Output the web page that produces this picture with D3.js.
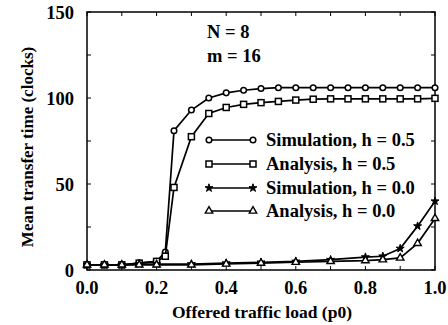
<!DOCTYPE html>
<html>
<head>
<meta charset="utf-8">
<script src="https://cdn.jsdelivr.net/npm/d3@7"></script>
<style>
  body { margin: 0; background: #fff; }
  text { font-family: "Liberation Serif", "Times New Roman", serif; fill: #000; font-weight: bold; }
</style>
</head>
<body>
<svg id="chart" width="448" height="325"></svg>
<script>
// data
const xSim05 = [0, 0.05, 0.1, 0.15, 0.2, 0.225, 0.25, 0.3, 0.35, 0.4, 0.45, 0.5, 0.55, 0.6, 0.65, 0.7, 0.75, 0.8, 0.85, 0.9, 0.95, 1.0];
const ySim05 = [3, 3, 3, 4, 5, 10.5, 81, 93, 100, 103, 104.5, 105.5, 106, 106, 106, 106, 106, 106, 106, 106, 106, 106];
const yAna05 = [3, 3, 3, 4, 5, 8, 48, 77.5, 91, 94.5, 96.3, 97.3, 98, 98.8, 99.3, 99.5, 99.5, 99.5, 99.5, 99.5, 99.5, 99.8];
const xH00 = [0, 0.05, 0.1, 0.15, 0.2, 0.3, 0.4, 0.5, 0.6, 0.7, 0.8, 0.85, 0.9, 0.95, 1.0];
const ySim00 = [3, 3, 3, 3.5, 3.5, 3.5, 4, 4.5, 5, 6, 7.5, 8, 12.5, 25.5, 40];
const yAna00 = [3, 3, 3, 3, 3, 3, 3.5, 4, 4.5, 5, 5.5, 6, 7, 15.5, 30];
const xTicks = [0, 0.2, 0.4, 0.6, 0.8, 1.0];
const yTicks = [0, 50, 100, 150];
const legendLabels = ["Simulation, h = 0.5", "Analysis, h = 0.5", "Simulation, h = 0.0", "Analysis, h = 0.0"];

const svg = d3.select('#chart');
const plotL = 87, plotR = 435, plotT = 12, plotB = 270;

const x = d3.scaleLinear().domain([0, 1]).range([plotL, plotR]);
const y = d3.scaleLinear().domain([0, 150]).range([plotB, plotT]);

// frame
svg.append('rect')
  .attr('x', plotL).attr('y', plotT)
  .attr('width', plotR - plotL).attr('height', plotB - plotT)
  .attr('fill', 'none').attr('stroke', '#000').attr('stroke-width', 1.5);

// inward ticks on all four sides
const g = svg.append('g').attr('stroke', '#000').attr('stroke-width', 1);
d3.range(0, 1.0001, 0.1).forEach(v => {
  g.append('line').attr('x1', x(v)).attr('x2', x(v)).attr('y1', plotB).attr('y2', plotB - 4);
  g.append('line').attr('x1', x(v)).attr('x2', x(v)).attr('y1', plotT).attr('y2', plotT + 4);
});
d3.range(0, 151, 25).forEach(v => {
  g.append('line').attr('x1', plotL).attr('x2', plotL + 4).attr('y1', y(v)).attr('y2', y(v));
  g.append('line').attr('x1', plotR).attr('x2', plotR - 4).attr('y1', y(v)).attr('y2', y(v));
});

// tick labels
svg.append('g').selectAll('text').data(xTicks).join('text')
  .attr('x', d => x(d)).attr('y', 294)
  .attr('text-anchor', 'middle')
  .attr('font-size', 18.5)
  .text(d => d.toFixed(1));

svg.append('g').selectAll('text').data(yTicks).join('text')
  .attr('x', 74).attr('y', d => y(d) + 7)
  .attr('text-anchor', 'end')
  .attr('font-size', 18.5)
  .text(d => d);

// axis titles
svg.append('text')
  .attr('x', 262).attr('y', 318)
  .attr('text-anchor', 'middle')
  .attr('font-size', 17.5)
  .text('Offered traffic load (p0)');

svg.append('text')
  .attr('transform', 'translate(33,147) rotate(-90)')
  .attr('text-anchor', 'middle')
  .attr('font-size', 17)
  .text('Mean transfer time (clocks)');

// annotation
svg.append('text').attr('x', 207).attr('y', 38).attr('font-size', 18.5).text('N = 8');
svg.append('text').attr('x', 207).attr('y', 62).attr('font-size', 18.5).text('m = 16');

// markers
function drawMarker(sel, type) {
  if (type === 'circle') {
    sel.append('circle').attr('r', 2.8).attr('fill', '#fff').attr('stroke', '#000').attr('stroke-width', 1.5);
  } else if (type === 'square') {
    sel.append('rect').attr('x', -3).attr('y', -3).attr('width', 6).attr('height', 6)
      .attr('fill', '#fff').attr('stroke', '#000').attr('stroke-width', 1.5);
  } else if (type === 'star') {
    sel.append('path').attr('d', d3.symbol(d3.symbolStar, 20)()).attr('fill', '#000').attr('stroke', '#000').attr('stroke-width', 1);
  } else {
    sel.append('path').attr('d', d3.symbol(d3.symbolTriangle, 24)()).attr('fill', '#fff').attr('stroke', '#000').attr('stroke-width', 1.4);
  }
}

const series = [
  { xs: xSim05, ys: ySim05, m: 'circle' },
  { xs: xSim05, ys: yAna05, m: 'square' },
  { xs: xH00, ys: ySim00, m: 'star' },
  { xs: xH00, ys: yAna00, m: 'triangle' }
];

const line = d3.line().x(d => x(d[0])).y(d => y(d[1]));

series.forEach(s => {
  const pts = s.xs.map((v, i) => [v, s.ys[i]]);
  svg.append('path').datum(pts)
    .attr('d', line).attr('fill', 'none')
    .attr('stroke', '#000').attr('stroke-width', 1.7);
  svg.append('g').selectAll('g').data(pts).join('g')
    .attr('transform', d => `translate(${x(d[0])},${y(d[1])})`)
    .each(function () { drawMarker(d3.select(this), s.m); });
});

// legend
const legRows = [140, 164, 188, 211];
legendLabels.forEach((lab, i) => {
  const row = svg.append('g').attr('transform', `translate(0,${legRows[i]})`);
  row.append('line').attr('x1', 209).attr('x2', 253).attr('y1', 0).attr('y2', 0)
    .attr('stroke', '#000').attr('stroke-width', 1.6);
  [209, 253].forEach(px => {
    drawMarker(row.append('g').attr('transform', `translate(${px},0)`), series[i].m);
  });
  row.append('text').attr('x', 266).attr('y', 6)
    .attr('font-size', 18.5)
    .text(lab);
});
</script>
</body>
</html>
